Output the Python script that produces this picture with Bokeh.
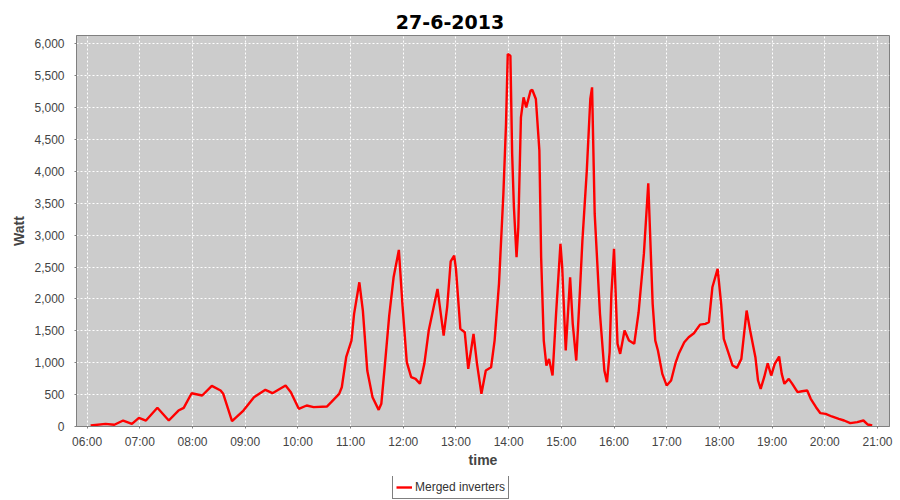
import pandas as pd
from bokeh.plotting import figure
from bokeh.layouts import column
from bokeh.models import (Range1d, FixedTicker, NumeralTickFormatter, DatetimeTickFormatter,
                          Legend, LegendItem, ColumnDataSource, Label)
from bokeh.embed import file_html
from bokeh.resources import INLINE

day = "2013-06-27"
title_text = "27-6-2013"
series_name = "Merged inverters"

times = ["06:04", "06:21", "06:31", "06:41", "06:51", "06:59", "07:07", "07:20", "07:33", "07:44",
         "07:50", "07:59", "08:11", "08:22", "08:32", "08:35", "08:45", "08:58", "09:10", "09:23",
         "09:31", "09:46", "09:52", "10:01", "10:10", "10:18", "10:33", "10:38", "10:47", "10:50",
         "10:55", "11:01", "11:04", "11:10", "11:14", "11:19", "11:25", "11:32", "11:35", "11:39",
         "11:44", "11:49", "11:55", "11:59", "12:04", "12:09", "12:14", "12:19", "12:24", "12:29",
         "12:35", "12:39", "12:46", "12:50", "12:54", "12:58", "13:00", "13:05", "13:10", "13:14",
         "13:20", "13:24", "13:29", "13:34", "13:40", "13:44", "13:49", "13:54", "13:57", "13:59",
         "14:02", "14:04", "14:06", "14:09", "14:11", "14:14", "14:17", "14:20", "14:25", "14:27",
         "14:31", "14:35", "14:37", "14:40", "14:43", "14:46", "14:50", "14:54", "14:59", "15:01",
         "15:05", "15:10", "15:13", "15:17", "15:21", "15:24", "15:29", "15:33", "15:35", "15:38",
         "15:44", "15:49", "15:52", "15:55", "15:57", "16:00", "16:04", "16:07", "16:12", "16:17",
         "16:23", "16:28", "16:34", "16:39", "16:44", "16:47", "16:50", "16:55", "17:00", "17:05",
         "17:10", "17:14", "17:20", "17:25", "17:31", "17:38", "17:44", "17:48", "17:52", "17:58",
         "18:02", "18:05", "18:10", "18:15", "18:20", "18:25", "18:31", "18:35", "18:41", "18:44",
         "18:47", "18:51", "18:55", "18:59", "19:03", "19:08", "19:11", "19:14", "19:19", "19:23",
         "19:29", "19:34", "19:40", "19:44", "19:50", "19:55", "20:01", "20:08", "20:16", "20:22",
         "20:29", "20:37", "20:44", "20:49", "20:54"]

watts = [15, 42, 27, 94, 42, 136, 94, 293, 94, 250,
         293, 522, 486, 637, 564, 512, 83, 250, 460, 575,
         522, 642, 538, 277, 329, 303, 313, 381, 512, 616,
         1086, 1347, 1766, 2261, 1818, 878, 460, 261, 355, 956,
         1739, 2340, 2769, 1923, 1008, 773, 747, 669, 982, 1504,
         1896, 2157, 1426, 1870, 2590, 2680, 2471, 1530, 1478, 904,
         1452, 982, 512, 878, 929, 1347, 2235, 3646, 4743, 5840,
         5813, 4273, 3437, 2653, 3123, 4847, 5160, 5003, 5265, 5276,
         5135, 4325, 2653, 1347, 956, 1060, 799, 1766, 2863, 2496,
         1191, 2340, 1609, 1034, 2079, 2914, 4011, 5135, 5317, 3333,
         1766, 878, 695, 1165, 2079, 2785, 1296, 1139, 1504, 1347,
         1296, 1791, 2706, 3813, 1923, 1347, 1191, 825, 642, 721,
         992, 1149, 1321, 1400, 1462, 1598, 1609, 1635, 2183, 2471,
         1923, 1374, 1165, 956, 919, 1060, 1818, 1504, 1086, 721,
         590, 773, 992, 799, 982, 1097, 825, 669, 747, 669,
         538, 553, 564, 434, 303, 209, 198, 157, 120, 94,
         52, 68, 94, 31, 16]

hour_ticks = ["06:00", "07:00", "08:00", "09:00", "10:00", "11:00", "12:00", "13:00",
              "14:00", "15:00", "16:00", "17:00", "18:00", "19:00", "20:00", "21:00"]
y_ticks = [0, 500, 1000, 1500, 2000, 2500, 3000, 3500, 4000, 4500, 5000, 5500, 6000]

x_start, x_end = "05:47:54", "21:13:42"
y_max = 6130

ts = pd.to_datetime([f"{day} {t}" for t in times])
src = ColumnDataSource(dict(time=ts, watt=watts))


def strip_figure(h):
    f = figure(width=900, height=h, output_backend="svg", toolbar_location=None,
               x_range=Range1d(0, 1), y_range=Range1d(0, 1),
               x_axis_location=None, y_axis_location=None,
               min_border_left=0, min_border_right=0, min_border_top=0, min_border_bottom=0)
    f.outline_line_color = None
    f.background_fill_color = "white"
    f.border_fill_color = "white"
    f.grid.visible = False
    return f


# title strip
tf = strip_figure(35)
tf.add_layout(Label(x=373.5, y=13.5, x_units="screen", y_units="screen", text=title_text,
                    text_font="DejaVu Sans", text_font_style="bold", text_font_size="19px",
                    text_color="black", text_align="center", text_baseline="alphabetic"))

# main chart
p = figure(width=900, height=441, x_axis_type="datetime", output_backend="svg",
           toolbar_location=None,
           x_range=Range1d(pd.Timestamp(f"{day} {x_start}"), pd.Timestamp(f"{day} {x_end}")),
           y_range=Range1d(0, y_max),
           min_border_left=76, min_border_right=11, min_border_top=0, min_border_bottom=50)

p.background_fill_color = "#CCCCCC"
p.border_fill_color = "white"
p.outline_line_color = "#808080"

tick_ms = [pd.Timestamp(f"{day} {h}").timestamp() * 1000 for h in hour_ticks]
p.xaxis.ticker = FixedTicker(ticks=tick_ms)
p.xaxis.formatter = DatetimeTickFormatter(hours="%H:%M", hourmin="%H:%M", minutes="%H:%M",
                                          days="%H:%M", strip_leading_zeros=False)
p.yaxis.ticker = FixedTicker(ticks=y_ticks)
p.yaxis.formatter = NumeralTickFormatter(format="0,0")

p.xaxis.axis_label = "time"
p.yaxis.axis_label = "Watt"
for ax in (p.xaxis[0], p.yaxis[0]):
    ax.axis_line_color = "#808080"
    ax.major_tick_line_color = "#808080"
    ax.major_tick_out = 2
    ax.major_tick_in = 0
    ax.minor_tick_line_color = None
    ax.major_label_text_font = "Liberation Sans"
    ax.major_label_text_font_size = "12px"
    ax.major_label_text_color = "#444444"
    ax.axis_label_text_font = "Liberation Sans"
    ax.axis_label_text_font_style = "bold"
    ax.axis_label_text_font_size = "14px"
    ax.axis_label_text_color = "#444444"
p.xaxis.major_label_standoff = 6
p.yaxis.major_label_standoff = 10
p.xaxis.axis_label_standoff = 0
p.yaxis.axis_label_standoff = 4

p.grid.grid_line_color = "white"
p.grid.grid_line_dash = "2 2"
p.grid.grid_line_width = 1

r = p.line("time", "watt", source=src, line_color="#FF0000", line_width=2.4)

# legend strip below the chart
lg = strip_figure(24)
r2 = lg.line(x=[2, 3], y=[2, 3], line_color="#FF0000", line_width=2.4)
legend = Legend(items=[LegendItem(label=series_name, renderers=[r2])],
                location=(316, 1), orientation="horizontal",
                padding=3, margin=0, spacing=0,
                glyph_width=16, glyph_height=16, label_height=16, label_standoff=3,
                label_text_font="Liberation Sans", label_text_font_size="12px",
                label_text_color="#333333",
                border_line_color="black", border_line_width=1,
                background_fill_color="white", background_fill_alpha=1)
lg.add_layout(legend)

layout = column(tf, p, lg, spacing=0)
open("out.html", "w").write(file_html(layout, INLINE))
